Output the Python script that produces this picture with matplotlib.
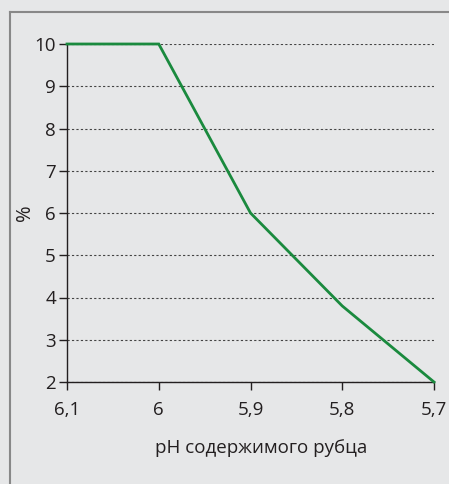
import matplotlib
matplotlib.use("Agg")
import matplotlib.pyplot as plt
from matplotlib.lines import Line2D

ph = [6.1, 6.0, 5.9, 5.8, 5.7]
pct = [10, 10, 6, 3.8, 2]
x_ticks = [6.1, 6.0, 5.9, 5.8, 5.7]
x_labels = ["6,1", "6", "5,9", "5,8", "5,7"]
y_ticks = [2, 3, 4, 5, 6, 7, 8, 9, 10]

plt.rcParams['font.family'] = ['Open Sans', 'DejaVu Sans']
bg = '#e6e7e8'
ink = '#231f20'
fig = plt.figure(figsize=(4.49, 4.84), dpi=100, facecolor=bg)
ax = fig.add_axes([67/449, 1-382/484, (434-67)/449, (382-44)/484])
ax.set_facecolor(bg)

ax.plot(ph, pct, color='#1a8a3e', lw=2.0, solid_joinstyle='miter', zorder=3, clip_on=False)
ax.set_xlim(6.1, 5.7)
ax.set_ylim(2, 10)
ax.set_xticks(x_ticks)
ax.set_xticklabels(x_labels)
ax.set_yticks(y_ticks)
ax.yaxis.grid(True, linestyle=(0, (2, 2)), color='#444444', lw=0.8)
ax.set_axisbelow(True)
for s in ['top', 'right']:
    ax.spines[s].set_visible(False)
for s in ['left', 'bottom']:
    ax.spines[s].set_color(ink)
    ax.spines[s].set_linewidth(1.0)
ax.tick_params(axis='both', colors=ink, labelsize=13.5, length=5.5, width=1.0)
ax.tick_params(axis='x', pad=8.5)
ax.tick_params(axis='y', pad=2.5)
ax.set_xlabel('pH содержимого рубца', fontsize=13.5, color=ink, va='center')
ax.xaxis.set_label_coords(0.528, -0.195)
ax.set_ylabel('%', fontsize=14.5, color=ink, va='center')
ax.yaxis.set_label_coords(-0.114, 0.5)

fig.add_artist(Line2D([10/449, 1], [1-12/484, 1-12/484], color='#888888', lw=1.5, transform=fig.transFigure))
fig.add_artist(Line2D([10/449, 10/449], [0, 1-12/484], color='#888888', lw=1.5, transform=fig.transFigure))

fig.savefig('out.png', dpi=100, facecolor=bg)
